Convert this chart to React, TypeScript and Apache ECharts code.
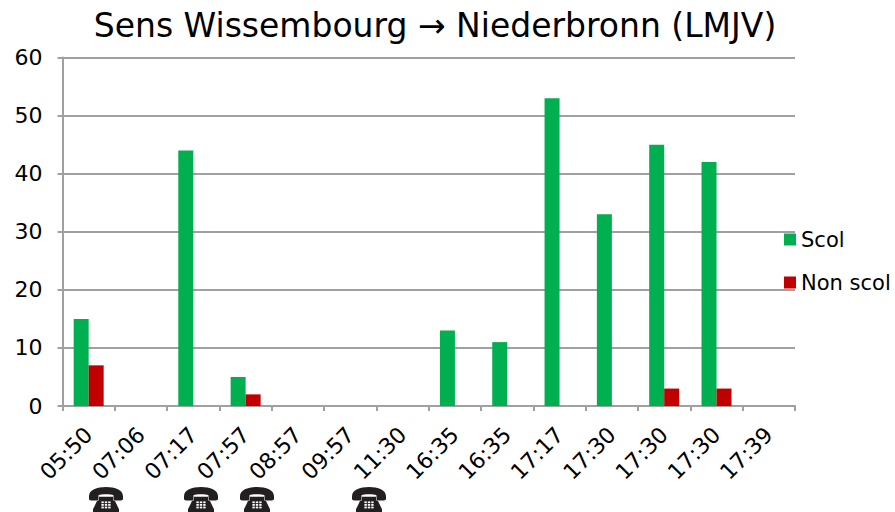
import React, { useEffect, useRef } from "react";
import * as echarts from "echarts";

const titleText = "Sens Wissembourg \u2192 Niederbronn (LMJV)";
const categories = ["05:50","07:06","07:17","07:57","08:57","09:57","11:30","16:35","16:35","17:17","17:30","17:30","17:30","17:39"];
const scol = [15,0,44,5,0,0,0,13,11,53,33,45,42,0];
const nonScol = [7,0,0,2,0,0,0,0,0,0,0,3,3,0];
const phoneCenters = [106, 201, 257, 369];

const phoneBody = "M3 10 C3 3 11 0 20 0 C29 0 37 3 37 10 L37 13 C37 14 36 14.5 35 14.5 L29 14.5 C28 14.5 27.5 14 27.5 13 L27.5 9 C25 7.5 15 7.5 12.5 9 L12.5 13 C12.5 14 12 14.5 11 14.5 L5 14.5 C4 14.5 3 14 3 13 Z M13 10.5 L27 10.5 L27 13 C27 14.5 28 15 29 15 L33 24 L33 27 L7 27 L7 24 L11 15 C12 15 13 14.5 13 13 Z";
echarts.graphic.registerShape("phone", echarts.graphic.extendPath(phoneBody, {}) as any);

export default function App() {
  const ref = useRef<HTMLDivElement>(null);
  useEffect(() => {
    const chart = echarts.init(ref.current!, undefined, { renderer: "svg" });
    const axisGrey = "#a0a0a0";
    const keys: any[] = [];
    for (let r = 0; r < 3; r++) for (let c = 0; c < 3; c++) keys.push({ type: "rect", shape: { x: 15.4 + c * 3.4, y: 15.5 + r * 2.8, width: 2.4, height: 1.9 }, style: { fill: "#fff" } });
    chart.setOption({
      animation: false,
      backgroundColor: "#fff",
      textStyle: { fontFamily: "DejaVu Sans" },
      title: {
        text: titleText, left: 430, top: 4, textAlign: "center",
        textStyle: { fontFamily: "DejaVu Sans", fontWeight: "normal", fontSize: 33, color: "#000" },
      },
      legend: {
        orient: "vertical", left: 784, top: 229, itemWidth: 12, itemHeight: 12, itemGap: 22, padding: 0,
        icon: "rect", itemStyle: { borderWidth: 0 },
        textStyle: { fontFamily: "DejaVu Sans", fontSize: 21, color: "#000", padding: [2, 0, 0, 0] },
      },
      grid: { left: 62.5, right: 100, top: 57.5, height: 348.5, containLabel: false },
      xAxis: {
        type: "category", data: categories, boundaryGap: true,
        axisLine: { lineStyle: { color: axisGrey, width: 2 } },
        axisTick: { show: true, length: 5, alignWithLabel: false, lineStyle: { color: axisGrey, width: 2 } },
        axisLabel: { rotate: 45, interval: 0, fontSize: 22, color: "#000", margin: 25, fontFamily: "DejaVu Sans" },
      },
      yAxis: {
        type: "value", min: 0, max: 60, interval: 10,
        axisLine: { show: true, lineStyle: { color: axisGrey, width: 2 } },
        axisTick: { show: true, length: 5, lineStyle: { color: axisGrey, width: 2 } },
        splitLine: { show: true, lineStyle: { color: axisGrey, width: 2 } },
        axisLabel: { fontSize: 22, color: "#000", margin: 20, fontFamily: "DejaVu Sans" },
      },
      series: [
        { name: "Scol", type: "bar", data: scol, barWidth: 15, barGap: 0, itemStyle: { color: "#00b050" } },
        { name: "Non scol", type: "bar", data: nonScol, barWidth: 15, barGap: 0, itemStyle: { color: "#c00000" } },
      ],
      graphic: phoneCenters.map((cx) => ({
        type: "group", x: cx - 20, y: 487, scaleX: 1, scaleY: 0.93,
        children: [{ type: "phone", style: { fill: "#231f20" } }, ...keys],
      })),
    });
    return () => chart.dispose();
  }, []);
  return <div ref={ref} style={{ position: "fixed", left: 0, top: 0, width: 895, height: 512 }} />;
}
